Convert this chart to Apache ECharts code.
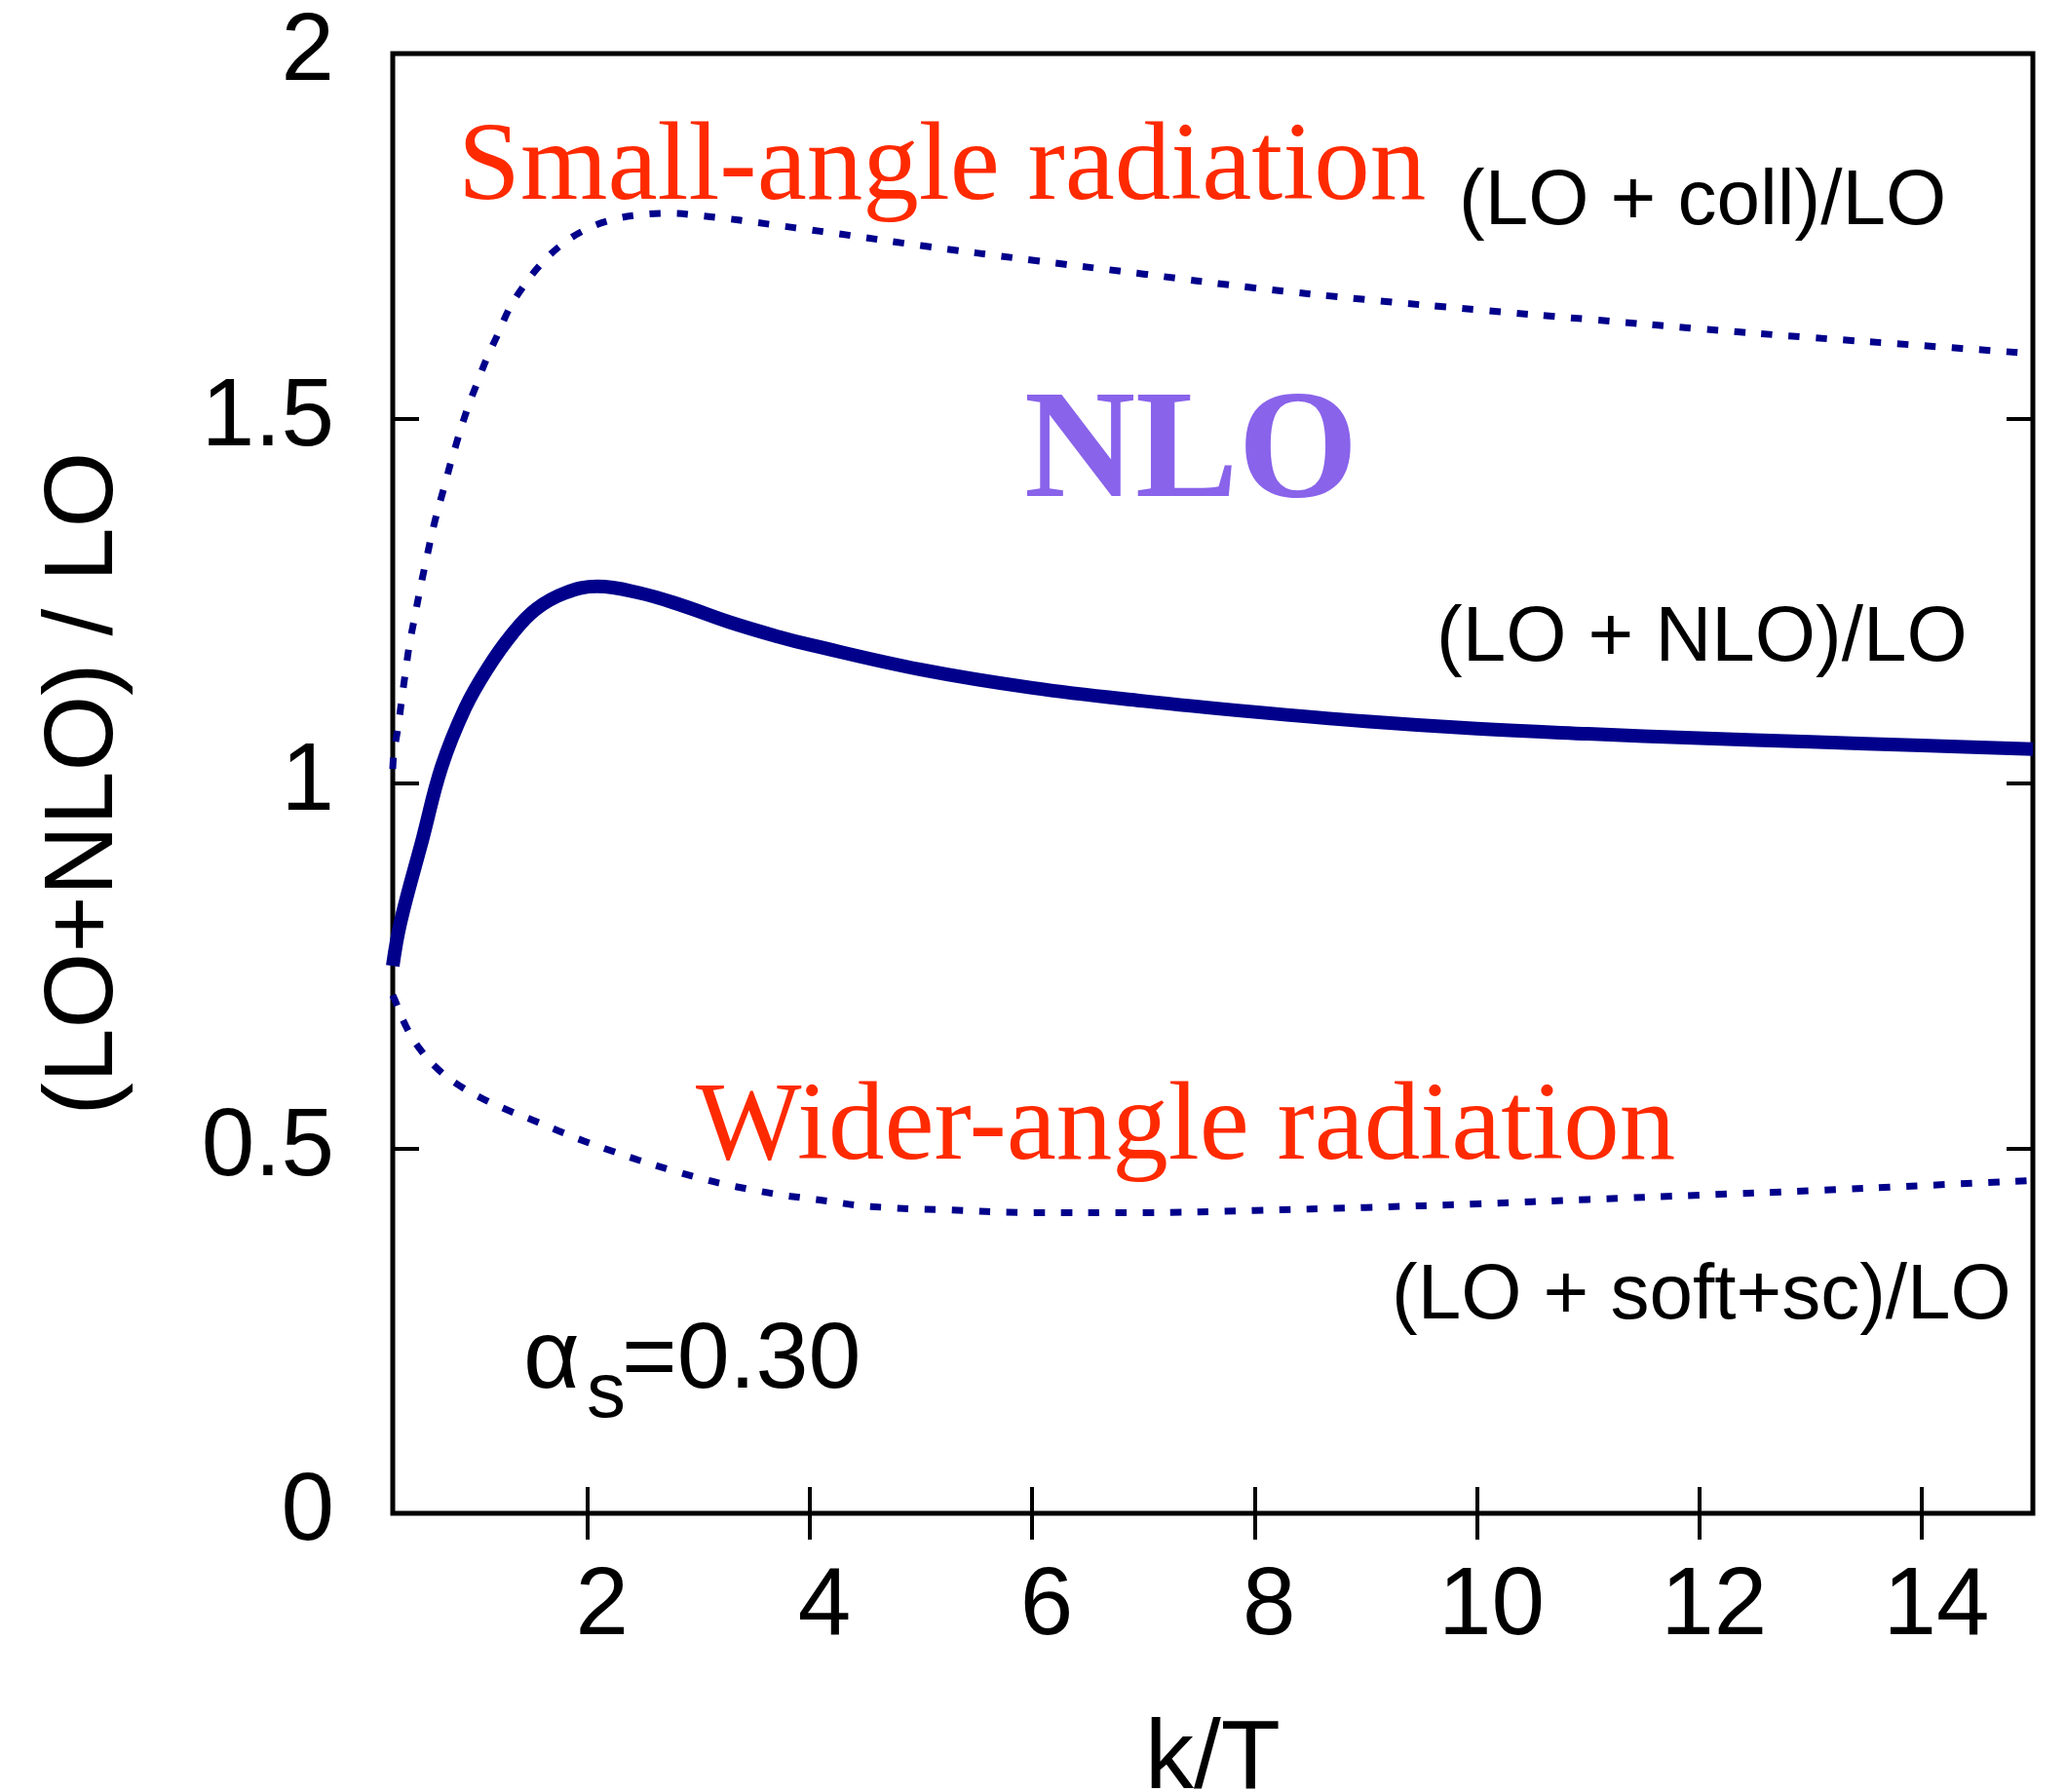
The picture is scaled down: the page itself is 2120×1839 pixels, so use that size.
<!DOCTYPE html>
<html>
<head>
<meta charset="utf-8">
<script src="https://cdn.jsdelivr.net/npm/echarts@6/dist/echarts.min.js"></script>
<style>
html,body{margin:0;padding:0;background:#fff;overflow:hidden;}
#chart{width:2120px;height:1839px;}
</style>
</head>
<body>
<div id="chart"></div>
<script>
// ---- data ----
const xTickValues = [2, 4, 6, 8, 10, 12, 14];

// (LO + NLO)/LO  (solid)
const nloX = [0.25, 0.32, 0.52, 0.69, 0.90, 1.10, 1.33, 1.54, 1.80, 2.09, 2.47, 2.85, 3.28, 3.72, 4, 5, 6, 7, 8, 9, 10, 11, 12, 13, 14, 15];
const nloY = [0.75, 0.81, 0.925, 1.023, 1.103, 1.157, 1.206, 1.239, 1.261, 1.270, 1.261, 1.244, 1.221, 1.201, 1.190, 1.156, 1.131, 1.113, 1.098, 1.085, 1.075, 1.068, 1.062, 1.057, 1.052, 1.047];

// (LO + coll)/LO  (upper dotted)
const collX = [0.25, 0.26, 0.30, 0.33, 0.364, 0.40, 0.445, 0.489, 0.541, 0.63, 0.72, 0.78, 0.92, 1.01, 1.10, 1.20, 1.30, 1.43, 1.58, 1.76, 1.96, 2.19, 2.47, 2.77, 3.01, 3.25, 3.50, 3.74, 3.98, 4.22, 5, 6, 7, 8, 9, 10, 11, 12, 13, 14, 15];
const collY = [1.02, 1.041, 1.079, 1.114, 1.152, 1.190, 1.226, 1.261, 1.299, 1.360, 1.410, 1.444, 1.513, 1.549, 1.584, 1.617, 1.651, 1.682, 1.711, 1.737, 1.757, 1.771, 1.779, 1.781, 1.778, 1.774, 1.769, 1.764, 1.759, 1.754, 1.737, 1.717, 1.698, 1.679, 1.663, 1.649, 1.636, 1.623, 1.611, 1.600, 1.589];

// (LO + soft+sc)/LO  (lower dotted)
const softX = [0.25, 0.27, 0.37, 0.49, 0.66, 0.85, 1.06, 1.29, 1.52, 1.74, 1.97, 2.21, 2.46, 2.76, 2.99, 3.23, 3.46, 3.71, 3.95, 4.20, 4.43, 4.68, 4.92, 5.17, 6, 7, 8, 9, 10, 11, 12, 13, 14, 15];
const softY = [0.71, 0.703, 0.667, 0.637, 0.608, 0.586, 0.568, 0.552, 0.538, 0.524, 0.510, 0.497, 0.484, 0.470, 0.460, 0.451, 0.444, 0.437, 0.432, 0.427, 0.422, 0.419, 0.417, 0.416, 0.412, 0.412, 0.415, 0.419, 0.424, 0.430, 0.436, 0.442, 0.449, 0.456];

const pairs = (xs, ys) => xs.map((x, i) => [x, ys[i]]);

const NAVY = '#00008b';
const RED = '#ff2a00';
const PURPLE = '#8963ea';
const SANS = '"Liberation Sans", Arial, Helvetica, sans-serif';
const SERIF = '"Liberation Serif", "Times New Roman", serif';

const chart = echarts.init(document.getElementById('chart'), null, {renderer: 'canvas'});

const tickStyle = {show: true, inside: true, length: 27, lineStyle: {color: '#000', width: 4}};

function txt(text, x, y, font, fill) {
  return {
    type: 'text', x: x, y: y, z: 100,
    style: {text: text, font: font, fill: fill, align: 'left', verticalAlign: 'middle',
            textAlign: 'left', textVerticalAlign: 'middle'}
  };
}

const option = {
  animation: false,
  backgroundColor: '#fff',
  grid: {left: 403, top: 55, right: 34, bottom: 286, containLabel: false,
         outerBoundsMode: 'none',
         show: true, borderColor: '#000', borderWidth: 5, backgroundColor: 'transparent'},
  xAxis: [
    {
      type: 'value', position: 'bottom', min: 0.25, max: 15,
      axisLine: {show: false},
      axisTick: Object.assign({customValues: xTickValues}, tickStyle),
      axisLabel: {customValues: xTickValues, fontSize: 98, fontFamily: SANS, color: '#000',
                  margin: 48, padding: [0, 0, 0, 30]},
      splitLine: {show: false},
      name: 'k/T', nameLocation: 'middle', nameGap: 204,
      nameTextStyle: {fontSize: 100, fontFamily: SANS, color: '#000'}
    },
    {
      type: 'value', position: 'top', min: 0.25, max: 15,
      axisLine: {show: false},
      axisTick: Object.assign({customValues: xTickValues}, tickStyle),
      axisLabel: {show: false},
      splitLine: {show: false}
    }
  ],
  yAxis: [
    {
      type: 'value', position: 'left', min: 0, max: 2, interval: 0.5,
      axisLine: {show: false},
      axisTick: tickStyle,
      axisLabel: {fontSize: 98, fontFamily: SANS, color: '#000', margin: 60},
      splitLine: {show: false},
      name: '(LO+NLO) / LO', nameLocation: 'middle', nameGap: 266,
      nameTextStyle: {fontSize: 100, fontFamily: SANS, color: '#000'}
    },
    {
      type: 'value', position: 'right', min: 0, max: 2, interval: 0.5,
      axisLine: {show: false},
      axisTick: tickStyle,
      axisLabel: {show: false},
      splitLine: {show: false}
    }
  ],
  series: [
    {
      name: '(LO + coll)/LO', type: 'line', xAxisIndex: 0, yAxisIndex: 0,
      data: pairs(collX, collY), showSymbol: false, symbol: 'none',
      smooth: 0.4,
      lineStyle: {color: NAVY, width: 7, type: [11.5, 16.5], cap: 'butt'}
    },
    {
      name: '(LO + soft+sc)/LO', type: 'line', xAxisIndex: 0, yAxisIndex: 0,
      data: pairs(softX, softY), showSymbol: false, symbol: 'none',
      smooth: 0.4,
      lineStyle: {color: NAVY, width: 7, type: [11.5, 16.5], cap: 'butt'}
    },
    {
      name: '(LO + NLO)/LO', type: 'line', xAxisIndex: 0, yAxisIndex: 0,
      data: pairs(nloX, nloY), showSymbol: false, symbol: 'none',
      smooth: 0.4,
      lineStyle: {color: NAVY, width: 14, join: 'round'}
    }
  ],
  graphic: [
    txt('Small-angle radiation', 470, 174, 'normal 115px ' + SERIF, RED),
    txt('Wider-angle radiation', 714, 1159, 'normal 115px ' + SERIF, RED),
    txt('NLO', 1051, 468, 'bold 158px ' + SERIF, PURPLE),
    txt('(LO + coll)/LO', 1497, 208, '80px ' + SANS, '#000'),
    txt('(LO + NLO)/LO', 1474, 656, '80px ' + SANS, '#000'),
    txt('(LO + soft+sc)/LO', 1428, 1331, '80px ' + SANS, '#000'),
    txt('\u03b1', 537, 1396, '100px ' + SANS, '#000'),
    txt('s', 602, 1432, '80px ' + SANS, '#000'),
    txt('=0.30', 638, 1397, '97px ' + SANS, '#000')
  ]
};

chart.setOption(option);
</script>
</body>
</html>
